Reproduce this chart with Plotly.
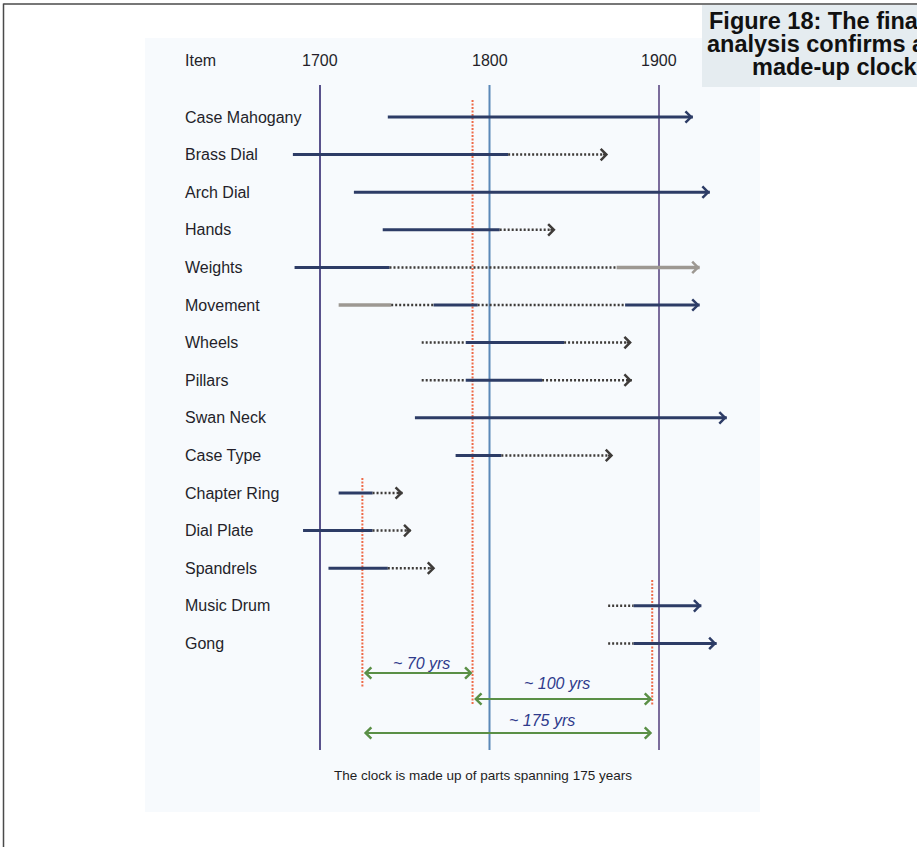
import plotly.graph_objects as go

# ---------------- data ----------------
items = ["Case Mahogany", "Brass Dial", "Arch Dial", "Hands", "Weights", "Movement",
         "Wheels", "Pillars", "Swan Neck", "Case Type", "Chapter Ring", "Dial Plate",
         "Spandrels", "Music Drum", "Gong"]

# flat segment table: item index, start year, end year, style
seg_item = [0, 1, 1, 2, 3, 3, 4, 4, 4, 5, 5, 5, 5, 5, 6, 6, 6, 7, 7, 7, 8, 9, 9,
            10, 10, 11, 11, 12, 12, 13, 13, 14, 14]
seg_start = [1740, 1684, 1811, 1720, 1737, 1806, 1685, 1741, 1875, 1711, 1742, 1767, 1793, 1880,
             1760, 1786, 1844, 1760, 1786, 1831, 1756, 1780, 1807,
             1711, 1731, 1690, 1731, 1705, 1740, 1870, 1885, 1870, 1885]
seg_end = [1920, 1811, 1870, 1930, 1806, 1839, 1741, 1875, 1924, 1742, 1767, 1793, 1880, 1924,
           1786, 1844, 1884, 1786, 1831, 1884, 1940, 1807, 1873,
           1731, 1749, 1731, 1754, 1740, 1768, 1885, 1925, 1885, 1934]
seg_style = ["solid", "solid", "dot", "solid", "solid", "dot", "solid", "dot", "gray",
             "gray", "dot", "solid", "dot", "solid",
             "dot", "solid", "dot", "dot", "solid", "dot", "solid", "solid", "dot",
             "solid", "dot", "solid", "dot", "solid", "dot", "dot", "solid", "dot", "solid"]

tick_years = [1700, 1800, 1900]
tick_labels = ["1700", "1800", "1900"]
header_label = "Item"

marker_years = [1790, 1725, 1896]          # red dotted reference lines
span_from = [1725, 1790, 1725]
span_to = [1790, 1896, 1896]
span_labels = ["~ 70 yrs", "~ 100 yrs", "~ 175 yrs"]
span_label_x = [1760, 1840, 1831]

caption = "The clock is made up of parts spanning 175 years"
fig_title_lines = ["Figure 18: The final", "analysis confirms a", "made-up clock."]

# ---------------- geometry helpers (layout only) ----------------
W, H = 917, 847
ROW0_PX, ROW_STEP = 117, 37.6
X_1700_PX, PX_PER_YEAR = 320, 1.695


def py(px):  # pixel row -> y value in row units
    return (px - ROW0_PX) / ROW_STEP


x_range = [1700 - X_1700_PX / PX_PER_YEAR, 1700 + (W - X_1700_PX) / PX_PER_YEAR]
y_range = [py(H), py(0)]

FONT = "Liberation Sans, Arial, Helvetica, sans-serif"
styles = {
    "solid": dict(color="#2d3c66", width=3, dash="solid"),
    "dot": dict(color="#3e3b39", width=2.5, dash="2px,2px"),
    "gray": dict(color="#9d9892", width=3.5, dash="solid"),
}
vline_colors = ["#59528c", "#5b88b8", "#7b6c9c"]

fig = go.Figure()

# vertical year lines
for yr, c in zip(tick_years, vline_colors):
    fig.add_trace(go.Scatter(x=[yr, yr], y=[py(85), py(750)], mode="lines",
                             line=dict(color=c, width=2), hoverinfo="skip"))

# red dotted marker lines
red_extent = [(100, 705), (478, 688), (580, 705)]
for yr, (a, b) in zip(marker_years, red_extent):
    fig.add_trace(go.Scatter(x=[yr, yr], y=[py(a), py(b)], mode="lines",
                             line=dict(color="#ee6a48", width=2, dash="2px,1.5px"),
                             hoverinfo="skip"))

# segments
for i, s, e, st in zip(seg_item, seg_start, seg_end, seg_style):
    fig.add_trace(go.Scatter(x=[s, e], y=[i, i], mode="lines",
                             line=styles[st], hoverinfo="skip"))

annotations = []
# arrowheads at the end of each item's last segment
for idx in range(len(items)):
    end, st = max((e, st) for i, e, st in zip(seg_item, seg_end, seg_style) if i == idx)
    annotations.append(dict(x=end, y=idx, ax=end - 4, ay=idx, xref="x", yref="y",
                            axref="x", ayref="y", text="", showarrow=True,
                            arrowhead=4, arrowsize=1.1, arrowwidth=2,
                            arrowcolor=styles[st]["color"]))

# item labels
for idx, name in enumerate(items):
    annotations.append(dict(x=183 / W, xref="paper", y=idx, yref="y", text=name,
                            showarrow=False, xanchor="left", yanchor="middle",
                            font=dict(family=FONT, size=16, color="#241f2a")))

# header
annotations.append(dict(x=183 / W, xref="paper", y=py(60), yref="y", text=header_label,
                        showarrow=False, xanchor="left", yanchor="middle",
                        font=dict(family=FONT, size=16, color="#241f2a")))
for yr, lab in zip(tick_years, tick_labels):
    annotations.append(dict(x=yr, xref="x", y=py(60), yref="y", text=lab,
                            showarrow=False, xanchor="center", yanchor="middle",
                            font=dict(family=FONT, size=16, color="#241f2a")))

# span arrows
span_rows_px = [673, 699, 733]
span_label_px = [663, 683, 720]
for a, b, lab, lx, rp, lp in zip(span_from, span_to, span_labels, span_label_x,
                                 span_rows_px, span_label_px):
    annotations.append(dict(x=b, y=py(rp), ax=a, ay=py(rp), xref="x", yref="y",
                            axref="x", ayref="y", text="", showarrow=True,
                            arrowside="end+start", arrowhead=4, startarrowhead=4,
                            arrowsize=1.1, startarrowsize=1.1, arrowwidth=2,
                            arrowcolor="#5a8f46"))
    annotations.append(dict(x=lx, y=py(lp), xref="x", yref="y", text=lab,
                            showarrow=False, xanchor="center", yanchor="middle",
                            font=dict(family=FONT, size=16, color="#2f3b8c",
                                      style="italic")))

# bottom caption
annotations.append(dict(x=1796, xref="x", y=py(775),
                        yref="y", text=caption, showarrow=False, xanchor="center",
                        yanchor="middle",
                        font=dict(family=FONT, size=13.5, color="#1e1e1e")))

# figure caption box text (clipped at the right edge, as in the page scan)
for line, x0, ypx in zip(fig_title_lines, [707, 705, 750], [21, 44, 67]):
    annotations.append(dict(x=x0 / W, xref="paper", y=1 - ypx / H, yref="paper",
                            text="<b>" + line + "</b>", showarrow=False,
                            xanchor="left", yanchor="middle",
                            font=dict(family=FONT, size=23.5, color="#111111")))

shapes = [
    # faint scanned-page background
    dict(type="rect", xref="paper", yref="paper", x0=145 / W, x1=760 / W,
         y0=1 - 812 / H, y1=1 - 38 / H, fillcolor="#f7fafd", line=dict(width=0),
         layer="below"),
    # caption box
    dict(type="rect", xref="paper", yref="paper", x0=702 / W, x1=1.3,
         y0=1 - 87 / H, y1=1 - 5 / H, fillcolor="#e5ecf0", line=dict(width=0),
         layer="below"),
    # page frame
    dict(type="line", xref="paper", yref="paper", x0=3.5 / W, x1=3.5 / W, y0=0, y1=1 - 3.5 / H,
         line=dict(color="#4a4a4a", width=1.5)),
    dict(type="line", xref="paper", yref="paper", x0=3.5 / W, x1=1.0, y0=1 - 4 / H, y1=1 - 4 / H,
         line=dict(color="#4a4a4a", width=1.5)),
]

fig.update_layout(
    width=W, height=H, margin=dict(l=0, r=0, t=0, b=0, pad=0),
    paper_bgcolor="white", plot_bgcolor="rgba(0,0,0,0)", showlegend=False,
    xaxis=dict(range=x_range, visible=False, fixedrange=True),
    yaxis=dict(range=y_range, visible=False, fixedrange=True),
    annotations=annotations, shapes=shapes,
)

fig.write_html("out.html", config={"displayModeBar": False},
               post_script="document.body.style.margin='0';")
